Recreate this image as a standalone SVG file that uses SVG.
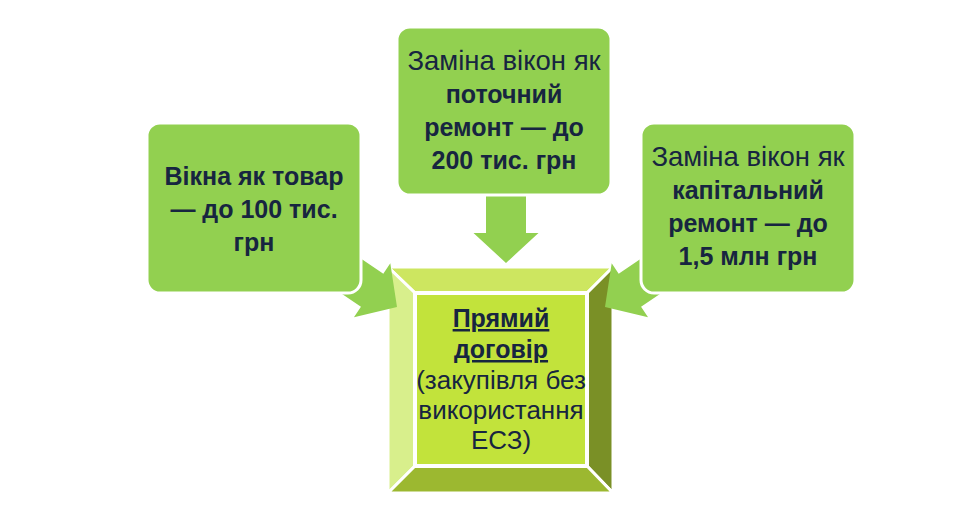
<svg xmlns="http://www.w3.org/2000/svg" width="977" height="519" viewBox="0 0 977 519">
<style>
.box{fill:#92d050;stroke:#ffffff;stroke-width:3}
.arrow{fill:#92d050}
.t{font-family:"Liberation Sans",Arial,sans-serif;font-size:25px;fill:#172540;text-anchor:middle}
.b{font-weight:bold}
.r{font-size:27.5px}
.c{font-size:26px}
.bev{stroke:#ffffff;stroke-width:3;stroke-linejoin:miter}
</style>
<defs>
<polygon id="arr" points="0,0 -30,-32.5 -30,-20 -80,-20 -80,20 -30,20 -30,32.5"/>
</defs>
<rect width="977" height="519" fill="#ffffff"/>
<g id="center">
<polygon class="bev" points="388,267 613,267 587,293 415,293" fill="#cde660"/>
<polygon class="bev" points="388,267 415,293 415,466 388,493" fill="#d8ef8c"/>
<polygon class="bev" points="613,267 613,493 587,466 587,293" fill="#7a9026"/>
<polygon class="bev" points="388,493 415,466 587,466 613,493" fill="#9cb830"/>
<rect x="415" y="293" width="172" height="173" fill="#c2e33b" stroke="#ffffff" stroke-width="4"/>
<text class="t b" x="501" y="327" text-decoration="underline">Прямий</text>
<text class="t b" x="501" y="358" text-decoration="underline">договір</text>
<text class="t c" x="501" y="389">(закупівля без</text>
<text class="t c" x="501" y="419">використання</text>
<text class="t c" x="501" y="449">ЕСЗ)</text>
</g>
<g id="connectors">
<use href="#arr" class="arrow" transform="translate(506,263) rotate(90)"/>
<use href="#arr" class="arrow" transform="translate(397,307) rotate(34)"/>
<use href="#arr" class="arrow" transform="translate(605,307) scale(-1,1) rotate(34)"/>
</g>
<g id="node-left">
<rect class="box" x="147" y="123" width="214" height="170" rx="13"/>
<text class="t b" x="254" y="185">Вікна як товар</text>
<text class="t b" x="254" y="218">— до 100 тис.</text>
<text class="t b" x="254" y="251">грн</text>
</g>
<g id="node-top">
<rect class="box" x="397" y="27" width="214" height="168" rx="13"/>
<text class="t r" x="504" y="70">Заміна вікон як</text>
<text class="t b" x="504" y="103">поточний</text>
<text class="t b" x="504" y="136">ремонт — до</text>
<text class="t b" x="504" y="169">200 тис. грн</text>
</g>
<g id="node-right">
<rect class="box" x="641" y="123" width="214" height="170" rx="13"/>
<text class="t r" x="748" y="166">Заміна вікон як</text>
<text class="t b" x="748" y="199">капітальний</text>
<text class="t b" x="748" y="232">ремонт — до</text>
<text class="t b" x="748" y="265">1,5 млн грн</text>
</g>
</svg>
